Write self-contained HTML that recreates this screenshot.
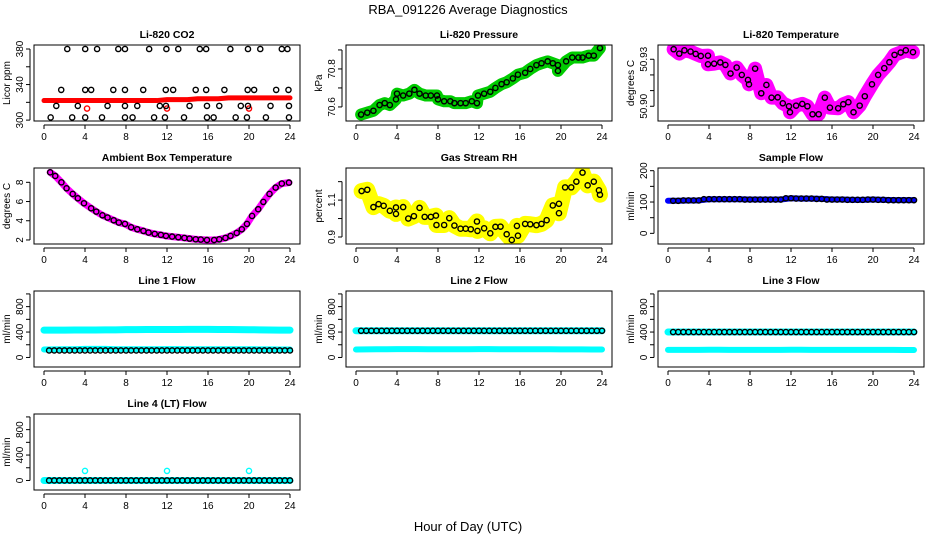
<!DOCTYPE html>
<html><head><meta charset="utf-8"><style>
body{margin:0;background:#fff;}
svg{display:block;font-family:"Liberation Sans",sans-serif;}
</style></head><body>
<svg id="chart" width="936" height="540" viewBox="0 0 936 540">
<text x="468" y="14" text-anchor="middle" font-size="13">RBA_091226  Average Diagnostics</text>
<text x="468" y="531" text-anchor="middle" font-size="13">Hour of Day (UTC)</text>
</svg>
<script>
// ---- data ----
const hours = [0,1,2,3,4,5,6,7,8,9,10,11,12,13,14,15,16,17,18,19,20,21,22,23,24];
const xTicks = [0,4,8,12,16,20,24];

const co2Red = [322,322,322,322,322,322,322,322,322,322,322,322,323,323,323,324,324,324,325,325,325,325,325,325,325];
const co2OutT = [4.2,12,20];
const co2OutV = [313,313,313];
const co2T = [2.27,4.02,5.18,7.25,7.9,10.26,11.94,13.1,15.2,15.82,18.18,19.9,21.1,23.2,23.75,
 1.68,4.02,4.6,6.76,7.9,9.68,11.88,12.6,14.8,15.82,17.6,19.87,20.5,22.65,23.85,
 1.2,3.3,6.2,7.9,9.1,11.3,11.9,14.2,15.9,17.1,19.2,19.9,22.1,23.9,
 0.65,2.75,4.02,5.66,7.9,8.64,10.74,11.8,13.66,15.9,16.55,18.7,19.8,21.65,23.9];
const co2V = [380,380,380,380,380,380,380,380,380,380,380,380,380,380,380,
 334,334,334,334,334,334,334,334,334,334,334,334,334,334,334,
 316,316,316,316,316,316,316,316,316,316,316,316,316,316,
 303,303,303,303,303,303,303,303,303,303,303,303,303,303,303];

const presT = [0.5,1.1,1.7,2.3,2.8,3.3,3.9,4,4.6,5.2,5.7,6.2,6.8,7.3,7.9,8,8.6,9.2,9.6,10.2,10.7,11.3,11.8,11.9,12.5,13.1,13.6,14.2,14.7,15.3,15.8,16.5,17,17.6,18.1,18.7,19.2,19.7,19.7,20.5,21.1,21.7,22.1,22.7,23.2,23.8];
const presV = [70.56,70.57,70.58,70.61,70.62,70.61,70.64,70.67,70.66,70.67,70.69,70.67,70.66,70.66,70.66,70.64,70.63,70.63,70.62,70.62,70.62,70.63,70.62,70.66,70.67,70.68,70.70,70.72,70.73,70.75,70.77,70.78,70.80,70.82,70.83,70.84,70.83,70.82,70.79,70.84,70.86,70.86,70.86,70.87,70.87,70.91];

const tempT = [0.55,1.1,1.6,2.2,2.7,3.2,3.9,3.9,4.5,5.1,5.6,6.1,6.7,7.2,7.8,7.9,8.5,9.1,9.6,10.1,10.7,11.2,11.8,11.9,12.5,13.1,13.6,14.1,14.7,15.3,15.8,16.6,17.1,17.6,18.1,18.7,19.2,19.9,20.5,21.1,21.6,22.1,22.7,23.2,23.9];
const tempV = [50.9364,50.9336,50.9357,50.9349,50.9334,50.9321,50.9323,50.9268,50.9272,50.928,50.9264,50.9209,50.9247,50.92,50.9168,50.914,50.924,50.9083,50.9136,50.9055,50.9057,50.9019,50.90,50.8962,50.9004,50.9015,50.90,50.8949,50.8949,50.9055,50.8991,50.8987,50.9013,50.9026,50.8962,50.9004,50.9064,50.914,50.92,50.9243,50.9281,50.9328,50.9343,50.9357,50.9345];

const ambT = [0.6,1.1,1.7,2.2,2.8,3.3,3.9,4.6,5.1,5.7,6.2,6.8,7.3,7.9,8.5,9.1,9.7,10.2,10.8,11.4,11.9,12.5,13.1,13.7,14.2,14.8,15.3,15.9,16.6,17.1,17.7,18.2,18.8,19.3,19.8,20.3,20.9,21.4,22.0,22.6,23.2,23.9];
const ambV = [9.04,8.66,8.0,7.38,6.79,6.34,5.82,5.3,4.95,4.57,4.33,4.05,3.81,3.67,3.32,3.11,2.94,2.77,2.63,2.53,2.42,2.35,2.28,2.21,2.14,2.07,2.04,2.0,2.0,2.07,2.21,2.42,2.73,3.11,3.67,4.5,5.2,5.96,6.79,7.45,7.87,7.97];

const rhT = [0.55,1.1,1.7,2.2,2.7,3.3,3.9,3.9,4.6,5.1,5.65,6.2,6.7,7.3,7.8,7.85,8.6,9.1,9.6,10.2,10.7,11.2,11.8,11.85,12.5,13.1,13.6,14.1,14.7,15.2,15.7,15.8,16.5,17.0,17.6,18.1,18.6,19.2,19.8,19.8,20.4,21.0,21.5,22.1,22.6,23.2,23.7,23.8];
const rhV = [1.149,1.156,1.062,1.078,1.069,1.042,1.06,1.025,1.062,1.0,1.013,1.058,1.009,1.009,1.016,0.965,0.965,1.002,0.962,0.945,0.945,0.942,0.984,0.933,0.947,0.92,0.955,0.956,0.915,0.884,0.96,0.907,0.971,0.969,0.964,0.971,0.991,1.071,1.08,1.029,1.169,1.169,1.2,1.249,1.18,1.2,1.153,1.129];

const sampleV = [104,104,105,105,109,109,109,109,108,108,108,108,112,111,111,110,108,108,107,107,108,107,106,106,106];

const l1High = [430,430,430,432,432,433,435,435,438,438,440,440,440,440,442,442,442,440,440,438,436,435,432,430,430];
const l1Low = [125,128,130,130,135,135,135,130,130,130,130,130,132,132,130,130,130,130,130,130,130,128,128,126,125];
const l1Black = [110,110,110,110,110,110,110,110,110,110,110,110,110,110,110,110,110,110,110,110,110,110,110,110,110];
const l2Cyan1 = [420,420,420,420,420,420,420,420,420,420,420,420,420,420,420,420,420,420,420,420,420,420,420,420,420];
const l2Cyan2 = [125,128,130,130,132,132,132,130,130,130,130,130,132,132,130,130,130,130,130,130,128,128,128,126,125];
const l2Black = [420,420,420,420,420,420,420,420,420,420,420,420,420,420,420,420,420,420,420,420,420,420,420,420,420];
const l3Cyan1 = [400,400,400,400,400,400,400,400,400,400,400,400,400,400,400,400,400,400,400,400,400,400,400,400,400];
const l3Cyan2 = [120,120,120,120,122,122,120,120,120,120,120,120,122,122,120,120,120,120,120,120,120,120,120,118,118];
const l3Black = [400,400,400,400,400,400,400,400,400,400,400,400,400,400,400,400,400,400,400,400,400,400,400,400,400];
const l4Cyan = [0,0,0,0,0,0,0,0,0,0,0,0,0,0,0,0,0,0,0,0,0,0,0,0,0];
const l4OutT = [4,12,20];
const l4OutV = [150,150,150];
const l4Black = [0,0,0,0,0,0,0,0,0,0,0,0,0,0,0,0,0,0,0,0,0,0,0,0,0];

const flowTicks = [0,200,400,600,800,1000];
const flowLabels = ["0","","400","","800",""];

// ---- drawing ----
const svg = document.getElementById('chart');
const NS = 'http://www.w3.org/2000/svg';
function mk(tag, attrs, parent){
  const e = document.createElementNS(NS, tag);
  for (const k in attrs) e.setAttribute(k, attrs[k]);
  (parent||svg).appendChild(e);
  return e;
}
function makePanel(r, c, name, title, ylab, ymin, ymax, ticks, labels){
  const L = 34 + 312*c, T = 45 + 123*r, W = 266, H = 76;
  const g = mk('g', {});
  
  
  const xs = h => L + 10 + h/24*246;
  const ys = v => T + H - (v - ymin)/(ymax - ymin)*H;
  const clip = mk('clipPath', {id: 'clip-' + name}, g);
  mk('rect', {x: L, y: T, width: W, height: H}, clip);
  const plot = mk('g', {'clip-path': 'url(#clip-' + name + ')'}, g);
  
  
  const box = mk('rect', {x: L, y: T, width: W, height: H, fill: 'none', stroke: '#000', 'stroke-width': 1}, g);
  
  
  const t = mk('text', {x: L + W/2, y: T - 7, 'text-anchor': 'middle', 'font-size': 10.5, 'font-weight': 'bold'}, g);
  t.textContent = title;
  
  
  const yl = mk('text', {x: 0, y: 0, 'text-anchor': 'middle', 'font-size': 10, transform: 'translate(' + (L - 24) + ',' + (T + H/2) + ') rotate(-90)'}, g);
  yl.textContent = ylab;
  
  
  mk('line', {x1: L - 4, x2: L - 4, y1: ys(ticks[0]), y2: ys(ticks[ticks.length-1]), stroke: '#000'}, g);
  ticks.forEach((v, i) => {
    mk('line', {x1: L - 8, x2: L - 4, y1: ys(v), y2: ys(v), stroke: '#000'}, g);
    if (labels[i]) {
      const tl = mk('text', {x: 0, y: 0, 'text-anchor': 'middle', 'font-size': 10, transform: 'translate(' + (L - 11) + ',' + ys(v) + ') rotate(-90)'}, g);
      tl.textContent = labels[i];
      
      
    }
  });
  mk('line', {x1: xs(0), x2: xs(24), y1: T + H + 4, y2: T + H + 4, stroke: '#000'}, g);
  xTicks.forEach(h => {
    mk('line', {x1: xs(h), x2: xs(h), y1: T + H + 4, y2: T + H + 8, stroke: '#000'}, g);
    const xl = mk('text', {x: xs(h), y: T + H + 19, 'text-anchor': 'middle', 'font-size': 10}, g);
    xl.textContent = h;
    
    
  });
  return {plot, xs, ys, name};
}
function band(p, ts, vs, color, width, label){
  const pts = ts.map((t, i) => p.xs(t) + ',' + p.ys(vs[i])).join(' ');
  const pl = mk('polyline', {points: pts, fill: 'none', stroke: color, 'stroke-width': width, 'stroke-linejoin': 'round', 'stroke-linecap': 'round'}, p.plot);
  
  
}
function points(p, ts, vs, color, label, rad){
  const g = mk('g', {}, p.plot);
  
  
  ts.forEach((t, i) => {
    const c = mk('circle', {cx: p.xs(t), cy: p.ys(vs[i]), r: rad || 2.6, fill: 'none', stroke: color, 'stroke-width': 1.4}, g);
    
    
  });
}
function denseDots(ts, vs){ // hourly black markers doubled visually at half-hour via both hour arrays
  return [ts, vs];
}

// CO2
let p = makePanel(0, 0, 'co2', 'Li-820 CO2', 'Licor ppm', 299, 384.5, [300,320,340,360,380], ['300','','340','','380']);
band(p, hours, co2Red, '#ff0000', 5, 'red-series');
points(p, co2OutT, co2OutV, '#ff0000', 'red-outliers');
points(p, co2T, co2V, '#000', 'black-series');

// Pressure
p = makePanel(0, 1, 'pressure', 'Li-820 Pressure', 'kPa', 70.526, 70.926, [70.6,70.7,70.8,70.9], ['70.6','','70.8','']);
band(p, presT, presV, '#00cc00', 12, 'green-series');
points(p, presT, presV, '#00cc00', 'green-points', 3.2);
points(p, presT, presV, '#000', 'black-series');

// Temperature
p = makePanel(0, 2, 'temperature', 'Li-820 Temperature', 'degrees C', 50.8906, 50.9391, [50.90,50.91,50.92,50.93], ['50.90','','','50.93']);
band(p, tempT, tempV, '#ff00ff', 14, 'magenta-series');
points(p, tempT, tempV, '#ff00ff', 'magenta-points', 3.4);
points(p, tempT, tempV, '#000', 'black-series');

// Ambient box
p = makePanel(1, 0, 'ambient', 'Ambient Box Temperature', 'degrees C', 1.58, 9.49, [2,4,6,8], ['2','4','6','8']);
band(p, ambT, ambV, '#ff00ff', 7, 'magenta-series');
points(p, ambT, ambV, '#000', 'black-series');

// RH
p = makePanel(1, 1, 'gas-rh', 'Gas Stream RH', 'percent', 0.862, 1.274, [0.9,1.0,1.1,1.2], ['0.9','','1.1','']);
band(p, rhT, rhV, '#ffff00', 16, 'yellow-series');
points(p, rhT, rhV, '#ffff00', 'yellow-points', 3.4);
points(p, rhT, rhV, '#000', 'black-series');

// Sample flow
p = makePanel(1, 2, 'sample-flow', 'Sample Flow', 'ml/min', -34, 208.6, [0,50,100,150,200], ['0','','100','','200']);
band(p, hours, sampleV, '#0000ff', 6, 'blue-series');
points(p, hours.slice(1), sampleV.slice(1), '#000', 'black-series');
points(p, hours.slice(1).map(h => h - 0.5), sampleV.slice(1), '#000', 'black-series-b');

function flowPanel(r, c, name, title, ylab, cy1, cy2, blk){
  const q = makePanel(r, c, name, title, ylab, -150, 1046, flowTicks, flowLabels);
  band(q, hours, cy1, '#00ffff', 7, 'cyan-series-1');
  if (cy2) band(q, hours, cy2, '#00ffff', 6, 'cyan-series-2');
  points(q, hours.slice(1), blk.slice(1), '#000', 'black-series');
  points(q, hours.slice(1).map(h => h - 0.5), blk.slice(1), '#000', 'black-series-b');
  return q;
}
flowPanel(2, 0, 'line1-flow', 'Line 1 Flow', 'ml/min', l1High, l1Low, l1Black);
flowPanel(2, 1, 'line2-flow', 'Line 2 Flow', 'ml/min', l2Cyan1, l2Cyan2, l2Black);
flowPanel(2, 2, 'line3-flow', 'Line 3 Flow', 'ml/min', l3Cyan1, l3Cyan2, l3Black);
p = flowPanel(3, 0, 'line4-flow', 'Line 4 (LT) Flow', 'ml/min', l4Cyan, null, l4Black);
points(p, l4OutT, l4OutV, '#00ffff', 'cyan-outliers');
</script>
</body></html>
